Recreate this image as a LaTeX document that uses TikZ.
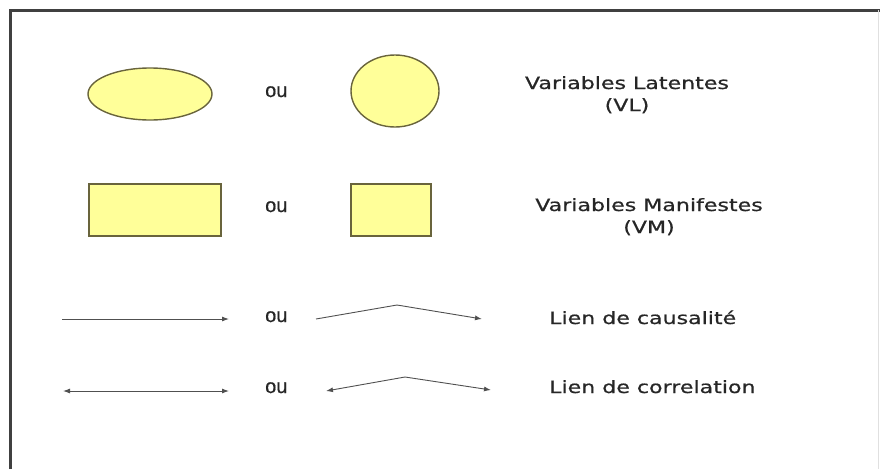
\documentclass[tikz,border=0pt]{standalone}
\usepackage{fontspec}
\setmainfont{Liberation Sans}
\newfontfamily\oufont[FakeBold=0.6]{Liberation Sans}
\newfontfamily\comicfont[FakeStretch=1.3,FakeBold=0.8]{DejaVu Sans}
\usetikzlibrary{arrows.meta,shapes.geometric}
\definecolor{fillyel}{RGB}{255,255,153}
\definecolor{edgeol}{RGB}{105,100,60}
\definecolor{arrgray}{RGB}{80,80,80}
\tikzset{
  shapebox/.style={draw=edgeol, fill=fillyel, line width=1.4pt, inner sep=0pt},
  ouword/.style={font=\oufont\fontsize{20}{24}\selectfont, anchor=base west, inner sep=0pt, text=black!85},
  legend/.style={font=\comicfont\fontsize{17}{22}\selectfont, anchor=base, inner sep=0pt, text=black!85},
  legendw/.style={legend, anchor=base west},
  link/.style={draw=arrgray, line width=0.9pt, -{Latex[length=7pt,width=5pt]}},
  dlink/.style={draw=arrgray, line width=0.9pt, {Latex[length=7pt,width=5pt]}-{Latex[length=7pt,width=5pt]}},
}
\begin{document}
\begin{tikzpicture}[x=1pt,y=-1pt]
\useasboundingbox (0,0) rectangle (880,469);
% frame
\draw[line width=3pt, black!75] (10,469) -- (10,10) -- (880,10);
\draw[black!12, line width=1pt] (878,10) -- (878,469);

% row 1: latent variables
\node[shapebox, ellipse, minimum width=124pt, minimum height=52pt] (ell) at (150,94) {};
\node[ouword] (ou1) at (265,97) {ou};
\node[shapebox, ellipse, minimum width=88pt, minimum height=72pt] (circ) at (395,91) {};
\node[legend] (vl1) at (627,89) {Variables Latentes};
\node[legend] (vl2) at (627,111) {(VL)};

% row 2: manifest variables
\node[shapebox, rectangle, minimum width=132pt, minimum height=52pt] (rbig) at (155,210) {};
\node[ouword] (ou2) at (265,212) {ou};
\node[shapebox, rectangle, minimum width=80pt, minimum height=52pt] (rsmall) at (391,210) {};
\node[legend] (vm1) at (649,211) {Variables Manifestes};
\node[legend] (vm2) at (649,233) {(VM)};

% row 3: causal links
\coordinate (a1s) at (62,319);
\coordinate (a1e) at (229,319);
\draw[link] (a1s) -- (a1e);
\node[ouword] (ou3) at (265,322) {ou};
\coordinate (b1s) at (316,319);
\coordinate (b1m) at (397,305);
\coordinate (b1e) at (482,319);
\draw[link] (b1s) -- (b1m) -- (b1e);
\node[legendw] (cau) at (549,324) {Lien de causalité};

% row 4: correlation links
\coordinate (a2s) at (63,391);
\coordinate (a2e) at (229,391);
\draw[dlink] (a2s) -- (a2e);
\node[ouword] (ou4) at (265,393) {ou};
\coordinate (b2s) at (326,391);
\coordinate (b2m) at (405,377);
\coordinate (b2e) at (491,390);
\draw[dlink] (b2s) -- (b2m) -- (b2e);
\node[legendw] (cor) at (549,393) {Lien de correlation};
\end{tikzpicture}
\end{document}
